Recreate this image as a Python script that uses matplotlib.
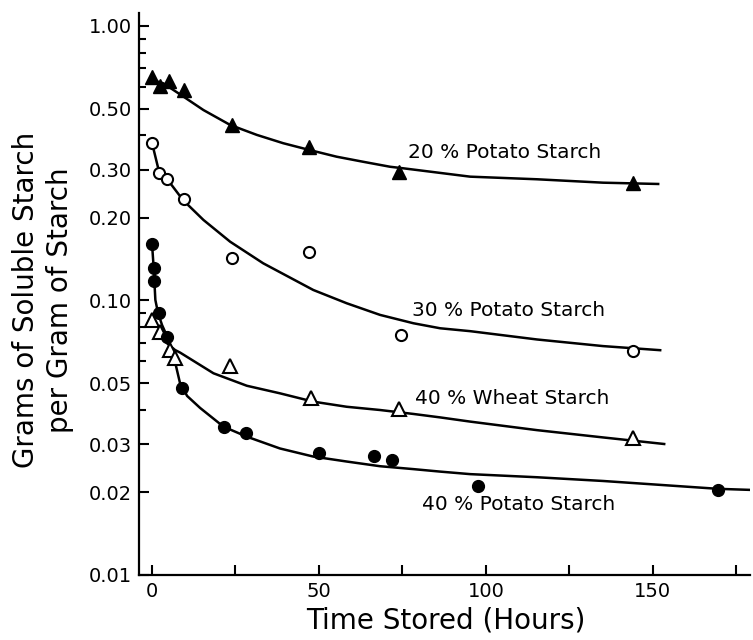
import matplotlib.pyplot as plt
from matplotlib.ticker import FixedLocator, NullFormatter

# measured points (hours, g soluble starch / g starch)
hours_p20 = [0, 2.5, 5, 9.5, 24, 47, 74, 144]
sol_p20 = [0.654, 0.605, 0.632, 0.586, 0.436, 0.363, 0.294, 0.269]

hours_p30 = [0, 2, 4.5, 9.5, 24, 47, 74.5, 144]
sol_p30 = [0.374, 0.292, 0.278, 0.234, 0.1425, 0.150, 0.0746, 0.0654]

hours_w40 = [0, 2.5, 5.5, 7, 23.5, 47.5, 74, 144]
sol_w40 = [0.0849, 0.0770, 0.0660, 0.0616, 0.0575, 0.0440, 0.0401, 0.0315]

hours_p40 = [0, 0.5, 0.5, 2, 4.5, 9, 21.5, 28, 50, 66.5, 72, 97.5, 169.5]
sol_p40 = [0.1607, 0.131, 0.118, 0.0898, 0.0738, 0.0478, 0.0347, 0.0328,
           0.0279, 0.0271, 0.0262, 0.0211, 0.0204]

# hand drawn curves
curve_h_p20 = [2.0, 3.4, 9.4, 15.4, 23.4, 31.4, 39.3, 47.3, 55.3, 63.3, 71.3,
               75.3, 95.3, 115.3, 135.1, 151.6]
curve_v_p20 = [0.625, 0.618, 0.553, 0.494, 0.436, 0.401, 0.374, 0.353, 0.334,
               0.320, 0.307, 0.303, 0.2825, 0.2764, 0.2686, 0.2657]

curve_h_p30 = [0, 1.8, 4.7, 9.3, 15.4, 23.4, 33.3, 48.3, 58.3, 68.3, 78.3,
               86.3, 95.3, 115.3, 135.1, 152.2]
curve_v_p30 = [0.375, 0.305, 0.275, 0.232, 0.1965, 0.1637, 0.1366, 0.1092,
               0.0977, 0.0886, 0.0826, 0.0792, 0.0773, 0.0721, 0.0682, 0.0659]

curve_h_w40 = [1.8, 4.4, 6.9, 8.4, 18.4, 28.4, 38.3, 48.3, 58.3, 68.3, 78.3,
               86.3, 95.3, 115.3, 135.1, 153.4]
curve_v_w40 = [0.0768, 0.0700, 0.0660, 0.0646, 0.0543, 0.0489, 0.0459, 0.0428,
               0.0410, 0.0399, 0.0386, 0.0375, 0.0362, 0.0337, 0.0317, 0.0300]

curve_h_p40 = [0, 0.5, 0.7, 1.0, 1.8, 3.0, 4.6, 6.9, 8.4, 9.4, 10.5, 14.4,
               21.4, 28.4, 38.3, 48.3, 58.3, 68.3, 78.3, 86.3, 95.3, 115.3,
               135.1, 169.5, 180]
curve_v_p40 = [0.1607, 0.1313, 0.1178, 0.1004, 0.0900, 0.0814, 0.0736, 0.0597,
               0.0499, 0.0476, 0.0449, 0.0406, 0.0347, 0.0319, 0.0289, 0.0270,
               0.0259, 0.0249, 0.0243, 0.0238, 0.0233, 0.0227, 0.0220, 0.0206,
               0.0204]

labels = ["20 % Potato Starch", "30 % Potato Starch",
          "40 % Wheat Starch", "40 % Potato Starch"]
label_pos = [(76.7, 0.3455), (77.8, 0.0923), (78.8, 0.0438), (80.8, 0.0180)]

yticks_major = [0.01, 0.02, 0.03, 0.05, 0.10, 0.20, 0.30, 0.50, 1.00]
yticks_minor = [0.04, 0.06, 0.07, 0.08, 0.09, 0.4, 0.6, 0.7, 0.8, 0.9]
xticks = [0, 25, 50, 75, 100, 125, 150, 175]
xtick_labels = ["0", "", "50", "", "100", "", "150", ""]

fig = plt.figure(figsize=(7.53, 6.4), dpi=100)
ax = fig.add_axes([0.1846, 0.1016, 0.8114, 0.8781])

lw = 1.8
ax.plot(curve_h_p20, curve_v_p20, color="black", lw=lw)
ax.plot(curve_h_p30, curve_v_p30, color="black", lw=lw)
ax.plot(curve_h_w40, curve_v_w40, color="black", lw=lw)
ax.plot(curve_h_p40, curve_v_p40, color="black", lw=lw)

ax.plot(hours_p20, sol_p20, ls="none", marker="^", ms=10, color="black", zorder=3)
ax.plot(hours_p30, sol_p30, ls="none", marker="o", ms=8, mfc="white",
        mec="black", mew=1.5, zorder=3)
ax.plot(hours_w40, sol_w40, ls="none", marker="^", ms=9.5, mfc="white",
        mec="black", mew=1.5, zorder=3)
ax.plot(hours_p40, sol_p40, ls="none", marker="o", ms=8.5, color="black", zorder=3)

for txt, (hx, vy) in zip(labels, label_pos):
    ax.text(hx, vy, txt, fontsize=14.5, ha="left", va="center")

ax.set_yscale("log")
ax.set_xlim(-3.9, 179.1)
ax.set_ylim(0.01, 1.115)

ax.yaxis.set_major_locator(FixedLocator(yticks_major))
ax.set_yticklabels(["%.2f" % t for t in yticks_major])
ax.yaxis.set_minor_locator(FixedLocator(yticks_minor))
ax.yaxis.set_minor_formatter(NullFormatter())
ax.set_xticks(xticks)
ax.set_xticklabels(xtick_labels)

ax.tick_params(axis="both", which="major", direction="in", length=7, width=1.5,
               labelsize=14, pad=5)
ax.tick_params(axis="y", which="minor", direction="in", length=5, width=1.5)

for s in ["top", "right"]:
    ax.spines[s].set_visible(False)
for s in ["left", "bottom"]:
    ax.spines[s].set_linewidth(1.6)

fig.text(0.592, 0.0297, "Time Stored (Hours)", fontsize=20, ha="center", va="center")
fig.text(0.057, 0.531, "Grams of Soluble Starch\nper Gram of Starch", fontsize=20,
         rotation=90, ha="center", va="center", multialignment="center",
         linespacing=1.3)

fig.savefig("out.png", dpi=100)
